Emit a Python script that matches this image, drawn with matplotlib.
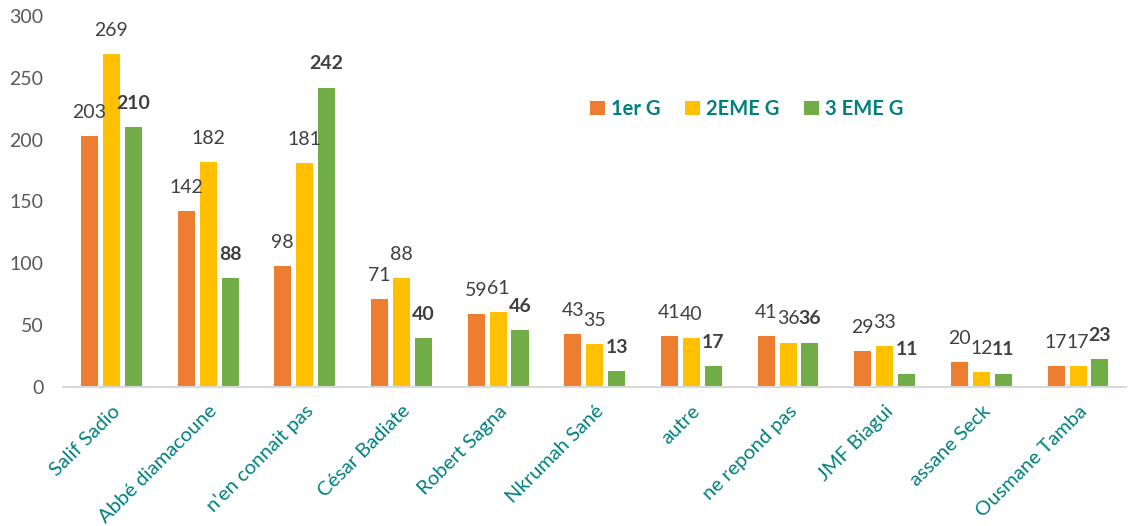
import matplotlib.pyplot as plt
import numpy as np

plt.rcParams['font.family'] = ['Lato', 'DejaVu Sans']

categories = ['Salif Sadio', 'Abbé diamacoune', "n'en connait pas", 'César Badiate',
              'Robert Sagna', 'Nkrumah Sané', 'autre', 'ne repond pas', 'JMF Biagui',
              'assane Seck', 'Ousmane Tamba']
g1 = [203, 142, 98, 71, 59, 43, 41, 41, 29, 20, 17]
g2 = [269, 182, 181, 88, 61, 35, 40, 36, 33, 12, 17]
g3 = [210, 88, 242, 40, 46, 13, 17, 36, 11, 11, 23]
series_names = ['1er G', '2EME G', '3 EME G']

colors = ['#ED7D31', '#FFC000', '#70AD47']
label_color = '#404040'
teal = '#00807F'

fig = plt.figure(figsize=(11.47, 5.26), dpi=100)
ax = fig.add_axes([0.055, 0.264, 0.927, 0.706])

x = np.arange(len(categories))
width = 0.176
offsets = [-0.227, 0, 0.227]

for k, (vals, name) in enumerate(zip([g1, g2, g3], series_names)):
    bars = ax.bar(x + offsets[k], vals, width, color=colors[k], label=name, zorder=2)
    for b, v in zip(bars, vals):
        ax.annotate(str(v), (b.get_x() + b.get_width() / 2, v),
                    xytext=(0, 17), textcoords='offset points',
                    ha='center', va='center', fontsize=14, color=label_color,
                    fontweight='bold' if k == 2 else 'normal')

ax.set_xlim(-0.5, len(categories) - 0.5)
ax.set_ylim(0, 300)
ax.set_yticks(range(0, 301, 50))
ax.tick_params(axis='y', length=0, labelsize=14, labelcolor='#595959', pad=14)
ax.tick_params(axis='x', length=0, pad=11)
ax.set_xticks(x)
ax.set_xticklabels(categories, rotation=45, ha='right', va='top',
                   rotation_mode='anchor', fontsize=14.5, color=teal)

for s in ['top', 'right', 'left']:
    ax.spines[s].set_visible(False)
ax.spines['bottom'].set_color('#D9D9D9')
ax.spines['bottom'].set_linewidth(1.5)

leg = ax.legend(loc='center', bbox_to_anchor=(0.643, 0.749), ncol=3, frameon=False,
                handlelength=0.75, handleheight=0.75, handletextpad=0.3, columnspacing=1.2,
                prop={'size': 14.5, 'weight': 'bold'})
for t in leg.get_texts():
    t.set_color(teal)

fig.savefig('out.png', dpi=100)
